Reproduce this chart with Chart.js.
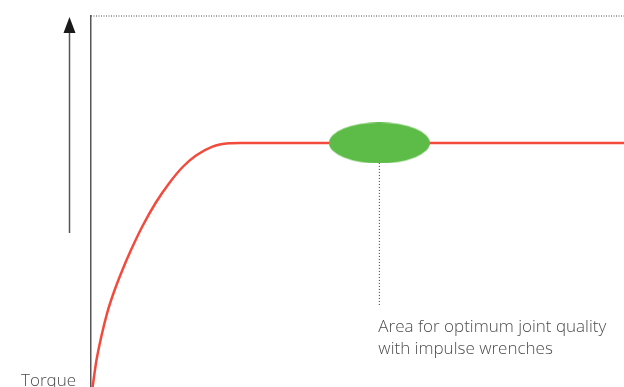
<!DOCTYPE html>
<html>
<head>
<meta charset="utf-8">
<script src="https://cdn.jsdelivr.net/npm/chart.js@4"></script>
<style>
    html, body { margin: 0; padding: 0; background: #fff; }
    #wrap { width: 624px; height: 387px; position: relative; }
</style>
</head>
<body>
<div id="wrap"><canvas id="torqueChart"></canvas></div>
<script>
// torque curve (x: time 0..100, y: torque 0..100)
const curveX = [0.3, 1.0, 2.0, 3.0, 4.3, 5.8, 7.5, 9.6, 12.2, 14.7, 17.2, 19.7, 22.8, 25.9, 28.0, 100];
const curveY = [0, 7.0, 14.0, 19.8, 25.6, 31.2, 36.9, 43.2, 49.8, 55.0, 59.3, 62.4, 64.8, 65.7, 65.8, 65.8];

// optimum area marker and its leader line
const optimumX = 54.1;
const optimumY = 65.8;
const leaderY = [60.4, 21.6];

// top dotted frame
const frameX = [0, 100];
const frameY = [100, 100];

const axisLabel = 'Torque';
const noteLines = ['Area for optimum joint quality', 'with impulse wrenches'];

const FONT = '300 17px "Open Sans", "Liberation Sans", sans-serif';
const TEXT_COLOR = '#4d4d4d';

// ellipse used as point style for the optimum area
function ellipseImage(w, h, color) {
    const c = document.createElement('canvas');
    c.width = w;
    c.height = h;
    const ctx = c.getContext('2d');
    ctx.fillStyle = color;
    ctx.beginPath();
    ctx.ellipse(w / 2, h / 2, w / 2, h / 2, 0, 0, Math.PI * 2);
    ctx.fill();
    return c;
}

const decorations = {
    id: 'decorations',
    afterDraw(chart) {
        const ctx = chart.ctx;
        const xs = chart.scales.x;
        ctx.save();

        // arrow next to the axis
        const ax = xs.left - 21.5;
        ctx.strokeStyle = '#555';
        ctx.lineWidth = 1.5;
        ctx.beginPath();
        ctx.moveTo(ax, 233);
        ctx.lineTo(ax, 30);
        ctx.stroke();
        ctx.fillStyle = '#1a1a1a';
        ctx.beginPath();
        ctx.moveTo(ax, 17);
        ctx.lineTo(ax - 6, 33);
        ctx.lineTo(ax + 6, 33);
        ctx.closePath();
        ctx.fill();

        // axis label
        ctx.font = FONT;
        ctx.fillStyle = TEXT_COLOR;
        ctx.textAlign = 'right';
        ctx.textBaseline = 'alphabetic';
        ctx.fillText(axisLabel, xs.left - 15, 386);

        // note under the leader line
        ctx.textAlign = 'left';
        const nx = xs.getPixelForValue(optimumX) - 1;
        noteLines.forEach((t, i) => ctx.fillText(t, nx, 332 + i * 22));

        ctx.restore();
    }
};

new Chart(document.getElementById('torqueChart'), {
    type: 'scatter',
    data: {
        datasets: [
            {
                label: 'optimum',
                data: [{ x: optimumX, y: optimumY }],
                pointStyle: ellipseImage(101, 41, '#5dbb47'),
                order: 0
            },
            {
                label: 'torque',
                data: curveX.map((x, i) => ({ x, y: curveY[i] })),
                showLine: true,
                borderColor: '#f24b3d',
                borderWidth: 2.5,
                pointRadius: 0,
                cubicInterpolationMode: 'monotone',
                clip: false,
                order: 2
            },
            {
                label: 'leader',
                data: leaderY.map(y => ({ x: optimumX, y })),
                showLine: true,
                borderColor: '#333',
                borderWidth: 1,
                borderDash: [1, 2],
                pointRadius: 0,
                order: 1
            },
            {
                label: 'frame',
                data: frameX.map((x, i) => ({ x, y: frameY[i] })),
                showLine: true,
                borderColor: '#444',
                borderWidth: 1,
                borderDash: [1, 1.5],
                pointRadius: 0,
                clip: false,
                order: 3
            }
        ]
    },
    options: {
        responsive: true,
        maintainAspectRatio: false,
        animation: false,
        events: [],
        layout: {
            autoPadding: false,
            padding: { left: 91, right: 0, top: 16, bottom: 0 }
        },
        plugins: {
            legend: { display: false },
            tooltip: { enabled: false }
        },
        scales: {
            x: {
                type: 'linear',
                min: 0,
                max: 100,
                display: false
            },
            y: {
                type: 'linear',
                min: 0,
                max: 100,
                ticks: { display: false },
                grid: { display: false, drawTicks: false },
                border: { display: true, color: '#555', width: 1.5 }
            }
        }
    },
    plugins: [decorations]
});
</script>
</body>
</html>
